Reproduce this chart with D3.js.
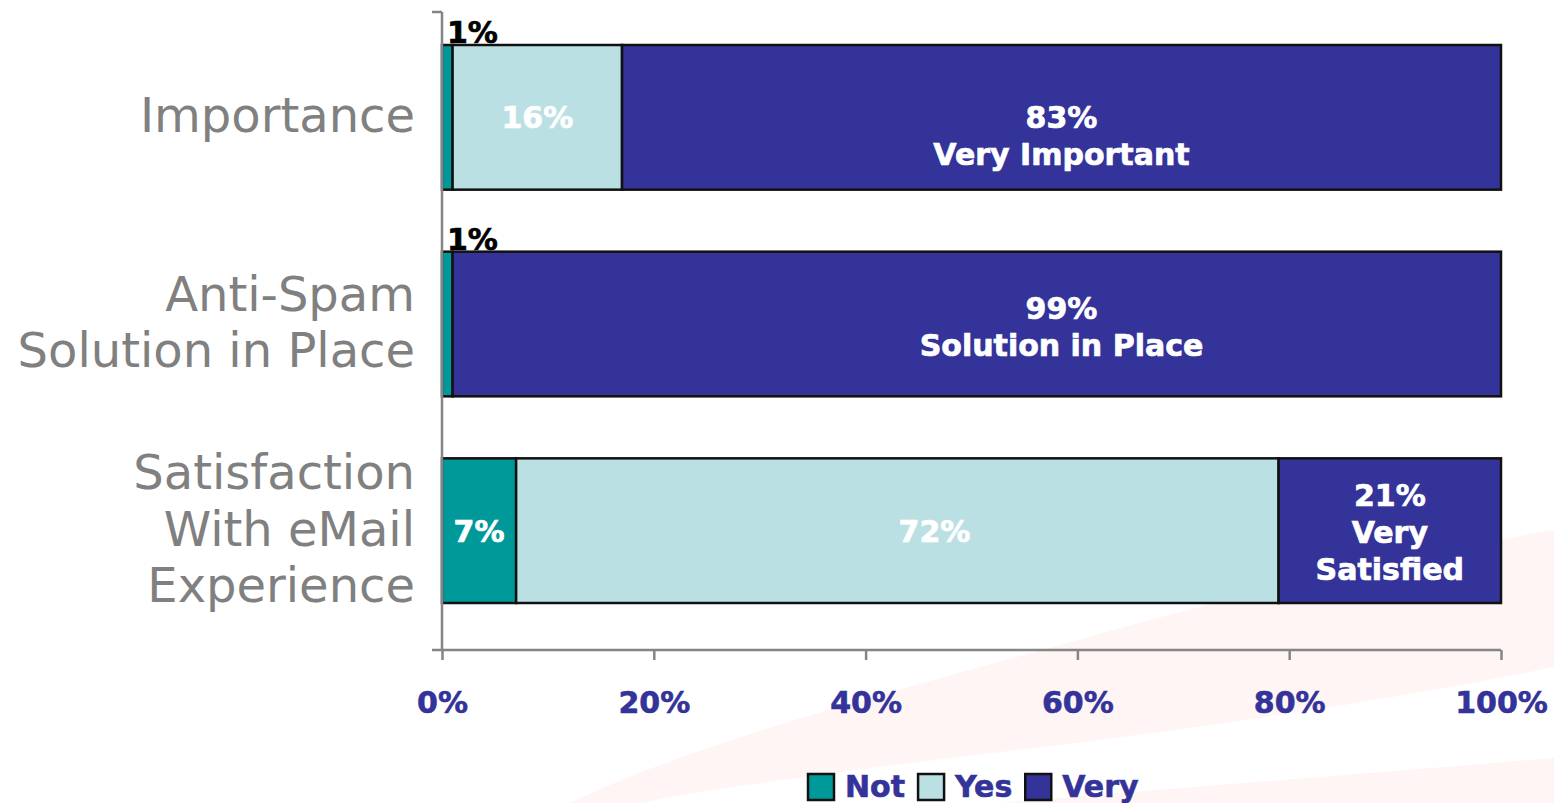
<!DOCTYPE html>
<html>
<head>
<meta charset="utf-8">
<script src="https://cdn.jsdelivr.net/npm/d3@7"></script>
<style>
  body { margin: 0; background: #fff; }
  svg { display: block; }
</style>
</head>
<body>
<script>
// Chart data
var categories = ["Importance", "Anti-Spam", "Satisfaction"];
var categoryLines = [["Importance"], ["Anti-Spam", "Solution in Place"], ["Satisfaction", "With eMail", "Experience"]];
var seriesNames = ["Not", "Yes", "Very"];
var notValues = [1, 1, 7];
var yesValues = [16, 0, 72];
var veryValues = [83, 99, 21];
var veryCaptions = [["Very Important"], ["Solution in Place"], ["Very", "Satisfied"]];
var tickValues = [0, 20, 40, 60, 80, 100];

var w = 1554, h = 803;
var colors = { Not: "#009999", Yes: "#bbe0e3", Very: "#333399" };
var navy = "#333399";
var font = "'DejaVu Sans', Verdana, sans-serif";

var svg = d3.select("body").append("svg")
    .attr("width", w)
    .attr("height", h);

// faint background swooshes
var bg = svg.append("g").attr("fill", "#fef5f4");
bg.append("path")
    .attr("d", "M570,803 C700,740 900,690 1150,620 C1300,580 1450,548 1554,530 L1554,667 C1400,700 1150,735 1000,752 C850,770 700,790 640,803 Z");
bg.append("path")
    .attr("d", "M1000,803 C1150,790 1350,775 1554,758 L1554,803 Z");

// Scales
var x = d3.scaleLinear().domain([0, 100]).range([442, 1501]);
var y = d3.scaleBand()
    .domain(categories)
    .range([14, 634])
    .paddingInner(0.3)
    .paddingOuter(0.15);

// Stack the three series
var rows = categories.map(function (c, i) {
    return { cat: c, Not: notValues[i], Yes: yesValues[i], Very: veryValues[i] };
});
var stacked = d3.stack().keys(seriesNames)(rows);

// Bars
svg.append("g").selectAll("g")
    .data(stacked)
    .enter()
    .append("g")
    .attr("fill", function (d) { return colors[d.key]; })
    .selectAll("rect")
    .data(function (d) { return d; })
    .enter()
    .filter(function (d) { return d[1] - d[0] > 0; })
    .append("rect")
    .attr("x", function (d) { return x(d[0]); })
    .attr("y", function (d) { return y(d.data.cat); })
    .attr("width", function (d) { return x(d[1]) - x(d[0]); })
    .attr("height", y.bandwidth())
    .attr("stroke", "#111")
    .attr("stroke-width", 2.5);

// Axes (drawn by hand to get Excel look)
var axisColor = "#858585";
var axisY = 650;
var xAxis = d3.axisBottom(x)
    .tickValues(tickValues)
    .tickSize(10)
    .tickFormat(function (d) { return d + "%"; });
var gx = svg.append("g")
    .attr("transform", "translate(0," + axisY + ")")
    .call(xAxis);
gx.select(".domain").remove();
gx.selectAll(".tick line").attr("stroke", axisColor).attr("stroke-width", 2.5);
gx.selectAll(".tick text")
    .attr("y", 63)
    .attr("dy", 0)
    .attr("fill", navy)
    .attr("stroke", navy)
    .attr("stroke-width", 0.6)
    .attr("font-family", font)
    .attr("font-weight", "bold")
    .attr("font-size", 30);
gx.append("line")
    .attr("x1", 432).attr("x2", x(100))
    .attr("stroke", axisColor).attr("stroke-width", 2.5);

// vertical axis line and top tick
svg.append("line")
    .attr("x1", x(0)).attr("x2", x(0))
    .attr("y1", 12).attr("y2", axisY)
    .attr("stroke", axisColor).attr("stroke-width", 2.5);
svg.append("line")
    .attr("x1", 432).attr("x2", x(0))
    .attr("y1", 12).attr("y2", 12)
    .attr("stroke", axisColor).attr("stroke-width", 2.5);

// Category labels
var catLineH = 56.5;
categories.forEach(function (c, i) {
    var lines = categoryLines[i];
    var cy = y(c) + y.bandwidth() / 2;
    var first = cy + 15 - (lines.length - 1) * catLineH / 2;
    var t = svg.append("text")
        .attr("text-anchor", "end")
        .attr("font-family", font)
        .attr("font-size", 48)
        .attr("fill", "#808080");
    lines.forEach(function (l, j) {
        t.append("tspan").attr("x", 415).attr("y", first + j * catLineH).text(l);
    });
});

// Data labels inside the bars
var lblLineH = 37;
var rowShift = [18, 2, 1];
// label centres (in % units) where the original labels were moved by hand
var labelAt = { "Very-1": 58.5, "Yes-2": 46.5 };

function addLabel(lines, cx, cy, fill, anchor) {
    var first = cy + 11 - (lines.length - 1) * lblLineH / 2;
    var t = svg.append("text")
        .attr("text-anchor", anchor || "middle")
        .attr("font-family", font)
        .attr("font-weight", "bold")
        .attr("font-size", 30)
        .attr("fill", fill)
        .attr("stroke", fill)
        .attr("stroke-width", 0.7);
    lines.forEach(function (l, j) {
        t.append("tspan").attr("x", cx).attr("y", first + j * lblLineH).text(l);
    });
}

stacked.forEach(function (s) {
    s.forEach(function (d, i) {
        var v = d[1] - d[0];
        if (v <= 0) return;
        var top = y(d.data.cat);
        var cy = top + y.bandwidth() / 2;
        var key = s.key + "-" + i;
        var cx = x(labelAt[key] !== undefined ? labelAt[key] : (d[0] + d[1]) / 2);
        if (s.key === "Not" && v < 3) {
            // too thin: label sits above the bar
            addLabel([v + "%"], x(0) + 5, top - 13, "#000", "start");
            return;
        }
        var lines = [v + "%"];
        if (s.key === "Very") lines = lines.concat(veryCaptions[i]);
        addLabel(lines, cx, cy + (lines.length > 1 ? rowShift[i] : 0), "#fff");
    });
});

// Legend
var legend = svg.append("g");
var lx = 808;
seriesNames.forEach(function (n) {
    legend.append("rect")
        .attr("x", lx).attr("y", 774)
        .attr("width", 26).attr("height", 26)
        .attr("fill", colors[n])
        .attr("stroke", "#111")
        .attr("stroke-width", 2.5);
    var t = legend.append("text")
        .attr("x", lx + 37).attr("y", 797)
        .attr("font-family", font)
        .attr("font-weight", "bold")
        .attr("font-size", 30)
        .attr("fill", navy)
        .attr("stroke", navy)
        .attr("stroke-width", 0.6)
        .text(n);
    lx += 37 + t.node().getComputedTextLength() + 13;
});
</script>
</body>
</html>
